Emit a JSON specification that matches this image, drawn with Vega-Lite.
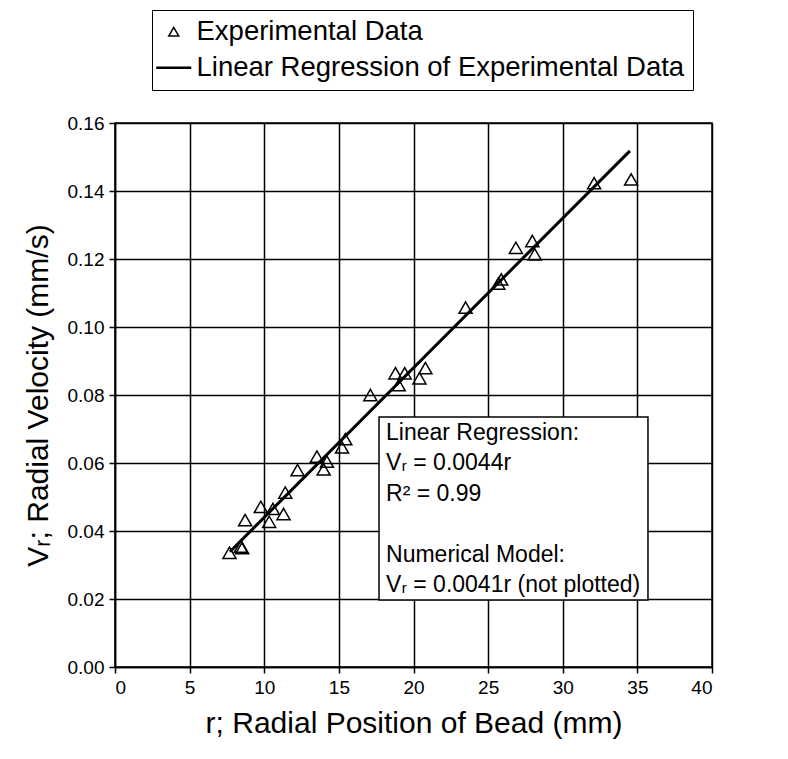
{
  "$schema": "https://vega.github.io/schema/vega-lite/v6.json",
  "width": 597,
  "height": 544,
  "autosize": {"type": "none"},
  "padding": {"left": 115, "top": 123, "right": 76, "bottom": 92},
  "background": "white",
  "datasets": {
    "experimental": [
      {"r": 7.67, "vr": 0.0336, "series": "Experimental Data"},
      {"r": 8.43, "vr": 0.0354, "series": "Experimental Data"},
      {"r": 8.52, "vr": 0.0350, "series": "Experimental Data"},
      {"r": 8.72, "vr": 0.0432, "series": "Experimental Data"},
      {"r": 9.77, "vr": 0.0471, "series": "Experimental Data"},
      {"r": 10.33, "vr": 0.0427, "series": "Experimental Data"},
      {"r": 10.58, "vr": 0.0465, "series": "Experimental Data"},
      {"r": 11.29, "vr": 0.0450, "series": "Experimental Data"},
      {"r": 11.41, "vr": 0.0513, "series": "Experimental Data"},
      {"r": 12.23, "vr": 0.0579, "series": "Experimental Data"},
      {"r": 13.53, "vr": 0.0619, "series": "Experimental Data"},
      {"r": 13.98, "vr": 0.0581, "series": "Experimental Data"},
      {"r": 14.20, "vr": 0.0604, "series": "Experimental Data"},
      {"r": 15.21, "vr": 0.0646, "series": "Experimental Data"},
      {"r": 15.43, "vr": 0.0670, "series": "Experimental Data"},
      {"r": 17.11, "vr": 0.0800, "series": "Experimental Data"},
      {"r": 18.79, "vr": 0.0864, "series": "Experimental Data"},
      {"r": 19.01, "vr": 0.0829, "series": "Experimental Data"},
      {"r": 19.41, "vr": 0.0864, "series": "Experimental Data"},
      {"r": 20.40, "vr": 0.0849, "series": "Experimental Data"},
      {"r": 20.80, "vr": 0.0879, "series": "Experimental Data"},
      {"r": 23.49, "vr": 0.1057, "series": "Experimental Data"},
      {"r": 25.68, "vr": 0.1128, "series": "Experimental Data"},
      {"r": 25.88, "vr": 0.1140, "series": "Experimental Data"},
      {"r": 26.86, "vr": 0.1233, "series": "Experimental Data"},
      {"r": 27.96, "vr": 0.1253, "series": "Experimental Data"},
      {"r": 28.12, "vr": 0.1214, "series": "Experimental Data"},
      {"r": 32.10, "vr": 0.1423, "series": "Experimental Data"},
      {"r": 34.58, "vr": 0.1434, "series": "Experimental Data"}
    ],
    "regression": [
      {"r": 7.7, "vr": 0.0339},
      {"r": 34.5, "vr": 0.1518}
    ],
    "box": [
      {"x1": 17.69, "x2": 35.71, "y1": 0.0735, "y2": 0.0197}
    ],
    "notes": [
      {"tx": 18.16, "ty": 0.0688, "label": "Linear Regression:"},
      {"tx": 18.16, "ty": 0.0600, "label": "Vᵣ = 0.0044r"},
      {"tx": 18.16, "ty": 0.0509, "label": "R² = 0.99"},
      {"tx": 18.16, "ty": 0.0329, "label": "Numerical Model:"},
      {"tx": 18.16, "ty": 0.0241, "label": "Vᵣ = 0.0041r (not plotted)"}
    ]
  },
  "layer": [
    {
      "data": {"name": "box"},
      "mark": {"type": "rect", "fill": "white", "stroke": "black", "strokeWidth": 1.5},
      "encoding": {
        "x": {
          "field": "x1", "type": "quantitative",
          "scale": {"domain": [0, 40], "nice": false},
          "axis": {
            "title": "r; Radial Position of Bead (mm)",
            "values": [0, 5, 10, 15, 20, 25, 30, 35, 40],
            "format": "d",
            "titlePadding": 11
          }
        },
        "x2": {"field": "x2"},
        "y": {
          "field": "y1", "type": "quantitative",
          "scale": {"domain": [0, 0.16], "nice": false},
          "axis": {
            "title": "Vᵣ; Radial Velocity (mm/s)",
            "values": [0, 0.02, 0.04, 0.06, 0.08, 0.1, 0.12, 0.14, 0.16],
            "format": ".2f",
            "titlePadding": 14
          }
        },
        "y2": {"field": "y2"}
      }
    },
    {
      "data": {"name": "regression"},
      "mark": {"type": "line", "color": "black", "strokeWidth": 3},
      "encoding": {
        "x": {"field": "r", "type": "quantitative"},
        "y": {"field": "vr", "type": "quantitative"}
      }
    },
    {
      "data": {"name": "experimental"},
      "mark": {"type": "point", "filled": false, "color": "black", "strokeWidth": 1.5, "size": 170, "opacity": 1},
      "encoding": {
        "x": {"field": "r", "type": "quantitative"},
        "y": {"field": "vr", "type": "quantitative"},
        "shape": {
          "field": "series",
          "type": "nominal",
          "scale": {
            "domain": ["Experimental Data", "Linear Regression of Experimental Data"],
            "range": ["triangle-up", "M-3.5,-0.12L3.5,-0.12M-3.5,0.12L3.5,0.12"]
          },
          "legend": {
            "title": null,
            "orient": "none",
            "legendX": 37,
            "legendY": -113,
            "symbolSize": 100,
            "symbolStrokeColor": "black",
            "symbolFillColor": "white",
            "symbolStrokeWidth": 1.5,
            "labelFontSize": 27.5,
            "labelColor": "black",
            "labelFont": "Liberation Sans",
            "labelLimit": 0,
            "rowPadding": 7,
            "padding": 8,
            "strokeColor": "black",
            "fillColor": "white",
            "labelOffset": 9
          }
        }
      }
    },
    {
      "data": {"name": "notes"},
      "mark": {"type": "text", "align": "left", "baseline": "middle", "fontSize": 23, "font": "Liberation Sans", "color": "black"},
      "encoding": {
        "x": {"field": "tx", "type": "quantitative"},
        "y": {"field": "ty", "type": "quantitative"},
        "text": {"field": "label"}
      }
    }
  ],
  "config": {
    "font": "Liberation Sans",
    "view": {"stroke": "black", "strokeWidth": 1.5},
    "axis": {
      "grid": true,
      "gridColor": "black",
      "gridWidth": 1.5,
      "gridOpacity": 1,
      "domainColor": "black",
      "domainWidth": 1.5,
      "tickColor": "black",
      "tickWidth": 1.5,
      "tickSize": 6,
      "labelFontSize": 19,
      "labelColor": "black",
      "labelFont": "Liberation Sans",
      "labelPadding": 5,
      "titleFontSize": 30,
      "titleFontWeight": "normal",
      "titleColor": "black",
      "titleFont": "Liberation Sans"
    }
  }
}
